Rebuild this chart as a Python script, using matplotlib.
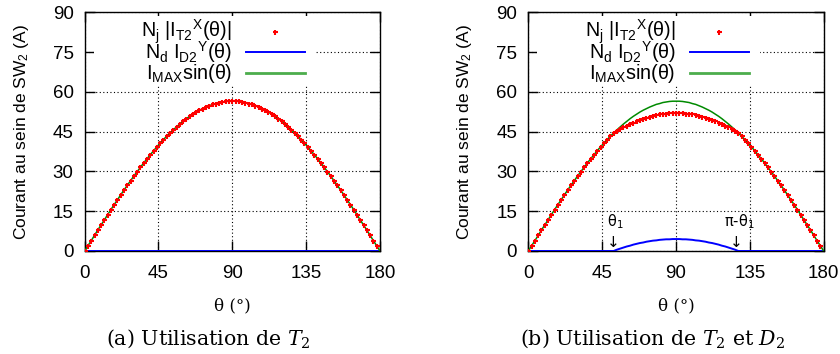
import matplotlib
matplotlib.use("Agg")
import matplotlib.pyplot as plt
from matplotlib.patches import Rectangle
import numpy as np

# angles (degrees) of the sampled points and of the curves
theta_pts = np.arange(0, 180, 2)
theta_line = np.arange(0, 182, 2)

# I_MAX sin(theta)
i_max_sin = [0.0, 2.0, 3.9, 5.9, 7.9, 9.8, 11.7, 13.7, 15.6, 17.5, 19.3, 21.2, 23.0, 24.8, 26.5,
             28.3, 29.9, 31.6, 33.2, 34.8, 36.3, 37.8, 39.3, 40.6, 42.0, 43.3, 44.5, 45.7, 46.8,
             47.9, 48.9, 49.9, 50.8, 51.6, 52.4, 53.1, 53.7, 54.3, 54.8, 55.3, 55.6, 56.0, 56.2,
             56.4, 56.5, 56.5, 56.5, 56.4, 56.2, 56.0, 55.6, 55.3, 54.8, 54.3, 53.7, 53.1, 52.4,
             51.6, 50.8, 49.9, 48.9, 47.9, 46.8, 45.7, 44.5, 43.3, 42.0, 40.6, 39.3, 37.8, 36.3,
             34.8, 33.2, 31.6, 29.9, 28.3, 26.5, 24.8, 23.0, 21.2, 19.3, 17.5, 15.6, 13.7, 11.7,
             9.8, 7.9, 5.9, 3.9, 2.0, 0.0]

# (a) N_j |I_T2(theta)| with T2 only
i_t2_a = [0.0, 2.0, 3.9, 5.9, 7.9, 9.8, 11.7, 13.7, 15.6, 17.5, 19.3, 21.2, 23.0, 24.8, 26.5,
          28.3, 29.9, 31.6, 33.2, 34.8, 36.3, 37.8, 39.3, 40.6, 42.0, 43.3, 44.5, 45.7, 46.8,
          47.9, 48.9, 49.9, 50.8, 51.6, 52.4, 53.1, 53.7, 54.3, 54.8, 55.3, 55.6, 56.0, 56.2,
          56.4, 56.5, 56.5, 56.5, 56.4, 56.2, 56.0, 55.6, 55.3, 54.8, 54.3, 53.7, 53.1, 52.4,
          51.6, 50.8, 49.9, 48.9, 47.9, 46.8, 45.7, 44.5, 43.3, 42.0, 40.6, 39.3, 37.8, 36.3,
          34.8, 33.2, 31.6, 29.9, 28.3, 26.5, 24.8, 23.0, 21.2, 19.3, 17.5, 15.6, 13.7, 11.7,
          9.8, 7.9, 5.9, 3.9, 2.0]
i_d2_a = [0.0] * 91

# (b) T2 and D2
i_t2_b = [0.0, 2.0, 3.9, 5.9, 7.9, 9.8, 11.7, 13.7, 15.6, 17.5, 19.3, 21.2, 23.0, 24.8, 26.5,
          28.3, 29.9, 31.6, 33.2, 34.8, 36.3, 37.8, 39.3, 40.6, 42.0, 43.3,
          44.5, 45.3, 46.0, 46.6, 47.3, 47.9, 48.4, 49.0, 49.4, 49.9, 50.3, 50.6, 51.0, 51.2,
          51.5, 51.7, 51.8, 51.9, 52.0, 52.0, 52.0, 51.9, 51.8, 51.7, 51.5, 51.2, 51.0, 50.6,
          50.3, 49.9, 49.4, 49.0, 48.4, 47.9, 47.3, 46.6, 46.0, 45.3, 44.5,
          43.3, 42.0, 40.6, 39.3, 37.8, 36.3, 34.8, 33.2, 31.6, 29.9, 28.3, 26.5, 24.8, 23.0,
          21.2, 19.3, 17.5, 15.6, 13.7, 11.7, 9.8, 7.9, 5.9, 3.9, 2.0]
i_d2_b = [0.0] * 26 + [0.0, 0.5, 0.9, 1.3, 1.7, 2.0, 2.4, 2.7, 3.0, 3.2, 3.5, 3.7, 3.9, 4.0,
                       4.2, 4.3, 4.4, 4.4, 4.5, 4.5, 4.5, 4.4, 4.4, 4.3, 4.2, 4.0, 3.9, 3.7,
                       3.5, 3.2, 3.0, 2.7, 2.4, 2.0, 1.7, 1.3, 0.9, 0.5, 0.0] + [0.0] * 26

ticks = [0, 45, 90, 135, 180]
yticks = [0, 15, 30, 45, 60, 75, 90]
labels = [r'N$_j$ |I$_{T2}$$^X$(θ)|', r'N$_d$ I$_{D2}$$^Y$(θ)', r'I$_{MAX}$sin(θ)']
captions = [r'(a) Utilisation de $\mathit{T}_2$', r'(b) Utilisation de $\mathit{T}_2$ et $\mathit{D}_2$']

RED = '#ff0000'
BLUE = '#0000ff'
GREEN = '#008a00'

plt.rcParams['font.family'] = 'Liberation Sans'
plt.rcParams['mathtext.fontset'] = 'custom'
plt.rcParams['mathtext.default'] = 'regular'
plt.rcParams['mathtext.it'] = 'DejaVu Serif:italic'

fig = plt.figure(figsize=(8.4, 3.54), dpi=100)
ax_a = fig.add_axes([0.1008, 0.291, 0.3515, 0.674])
ax_b = fig.add_axes([0.629, 0.291, 0.3515, 0.674])

for ax, pts, d2 in [(ax_a, i_t2_a, i_d2_a), (ax_b, i_t2_b, i_d2_b)]:
    ax.plot(theta_line, d2, color=BLUE, lw=1.4, zorder=3)
    ax.plot(theta_line, i_max_sin, color=GREEN, lw=1.1, zorder=4)
    ax.plot(theta_pts, pts, ls='none', marker='+', ms=3.6, mew=1.5, color=RED, zorder=5)
    ax.set_xlim(0, 180)
    ax.set_ylim(0, 90)
    ax.set_xticks(ticks)
    ax.set_yticks(yticks)
    ax.tick_params(direction='in', top=True, right=True, length=7, width=1,
                   labelsize=13.5, pad=8)
    ax.tick_params(axis='x', pad=10)
    ax.grid(True, color='black', ls=(0, (1, 2.2)), lw=0.8)
    for s in ax.spines.values():
        s.set_linewidth(1)
    ax.set_ylabel(r'Courant au sein de SW$_2$ (A)', fontsize=12.5)
    ax.yaxis.set_label_coords(-0.183, 0.5)
    ax.set_xlabel('θ (°)', fontsize=12, family='DejaVu Serif')
    ax.xaxis.set_label_coords(0.5, -0.195)

    # gnuplot style key: white box, right aligned text, sample on the right
    ax.add_patch(Rectangle((0.03, 0.695), 0.753, 0.29, transform=ax.transAxes,
                           facecolor='white', edgecolor='none', zorder=8))
    rows = [0.9175, 0.8337, 0.7457]
    for lab, yk in zip(labels, rows):
        ax.text(0.499, yk, lab, transform=ax.transAxes, ha='right', va='center',
                fontsize=14.2, zorder=9)
    ax.plot([0.646], [rows[0]], transform=ax.transAxes, ls='none', marker='+',
            ms=3.6, mew=1.5, color=RED, zorder=9, clip_on=False)
    ax.plot([0.546, 0.746], [rows[1]] * 2, transform=ax.transAxes, color=BLUE,
            lw=1.4, zorder=9, clip_on=False)
    ax.plot([0.546, 0.746], [rows[2]] * 2, transform=ax.transAxes, color=GREEN,
            lw=2, alpha=0.7, zorder=9, clip_on=False)

# theta_1 and pi - theta_1 markers
for x, txt in [(53, 'θ$_1$'), (128.5, 'π-θ$_1$')]:
    ax_b.text(x, 10.9, txt, ha='center', va='center', fontsize=10.5, family='DejaVu Sans')
    ax_b.text(round(x) - 1, 3.2, '↓', ha='center', va='center', fontsize=11, family='DejaVu Sans')

fig.text(208 / 840, 1 - 345 / 354, captions[0], ha='center', va='baseline',
         fontsize=14.8, family='DejaVu Serif')
fig.text(653 / 840, 1 - 345 / 354, captions[1], ha='center', va='baseline',
         fontsize=14.8, family='DejaVu Serif')

fig.savefig('out.png', dpi=100)
